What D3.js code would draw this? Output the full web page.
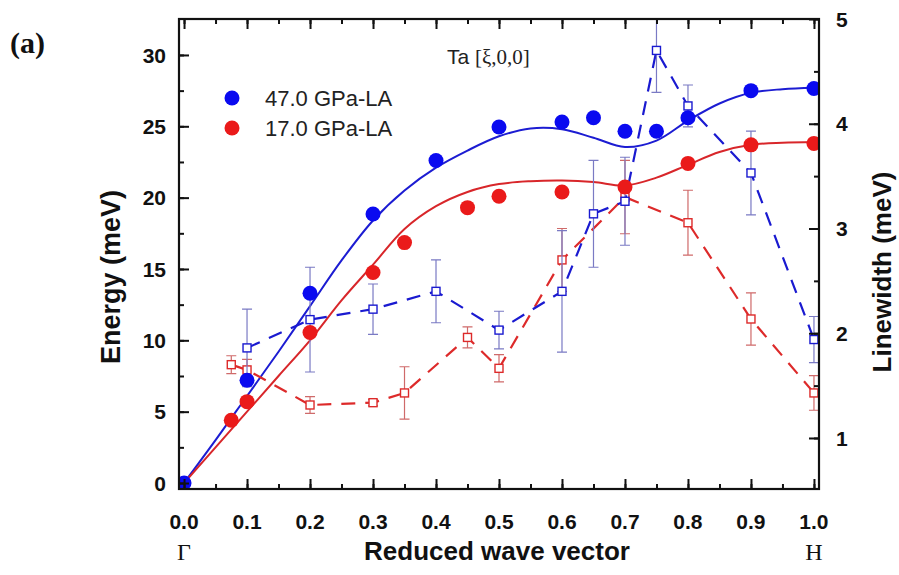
<!DOCTYPE html>
<html lang="en">
<head>
    <meta charset="UTF-8">
    <title>Ta [ξ,0,0] LA phonons</title>
    <script src="https://d3js.org/d3.v7.min.js"></script>
    <style>
        body { margin: 0; background: #fff; }
        svg { display: block; }
        .tick-label { font-family: "Liberation Sans", Arial, sans-serif; font-weight: bold; font-size: 21px; fill: #111; }
        .axis-title { font-family: "Liberation Sans", Arial, sans-serif; font-weight: bold; font-size: 26px; fill: #111; }
    </style>
</head>
<body>
<svg></svg>
<script>
const width = 899, height = 575;

// energy dispersion (left axis)
const q47 = [0, 0.1, 0.2, 0.3, 0.4, 0.5, 0.6, 0.65, 0.7, 0.75, 0.8, 0.9, 1.0];
const e47 = [0, 7.2, 13.3, 18.85, 22.6, 24.95, 25.3, 25.6, 24.65, 24.65, 25.6, 27.5, 27.65];
const q17 = [0.075, 0.1, 0.2, 0.3, 0.35, 0.45, 0.5, 0.6, 0.7, 0.8, 0.9, 1.0];
const e17 = [4.4, 5.7, 10.55, 14.75, 16.85, 19.3, 20.1, 20.4, 20.75, 22.4, 23.7, 23.8];

// fitted curves
const qFit = [0, 0.05, 0.1, 0.15, 0.2, 0.25, 0.3, 0.35, 0.4, 0.45, 0.5, 0.55, 0.6, 0.65, 0.7, 0.75, 0.8, 0.85, 0.9, 0.95, 1.0];
const fit47 = [0, 3.0, 6.1, 9.2, 12.4, 15.6, 18.4, 20.5, 22.1, 23.3, 24.3, 24.85, 24.8, 24.2, 23.55, 24.0, 25.4, 26.6, 27.35, 27.6, 27.7];
const fit17 = [0, 2.5, 5.0, 7.5, 10.0, 12.8, 15.3, 17.8, 19.4, 20.4, 20.95, 21.15, 21.2, 21.1, 20.85, 21.4, 22.3, 23.2, 23.7, 23.85, 23.9];

// linewidths (right axis)
const qLw47 = [0.1, 0.2, 0.3, 0.4, 0.5, 0.6, 0.65, 0.7, 0.75, 0.8, 0.9, 1.0];
const lw47 = [1.86, 2.13, 2.23, 2.40, 2.03, 2.40, 3.14, 3.26, 4.70, 4.17, 3.53, 1.94];
const err47 = [0.37, 0.5, 0.24, 0.3, 0.18, 0.58, 0.51, 0.42, 0.4, 0.2, 0.4, 0.22];
const qLw17 = [0.075, 0.1, 0.2, 0.3, 0.35, 0.45, 0.5, 0.6, 0.7, 0.8, 0.9, 1.0];
const lw17 = [1.70, 1.65, 1.315, 1.337, 1.43, 1.96, 1.665, 2.70, 3.30, 3.055, 2.136, 1.43];
const err17 = [0.085, 0.1, 0.08, 0.03, 0.25, 0.1, 0.13, 0.3, 0.35, 0.31, 0.25, 0.165];

const xTicks = [0, 0.1, 0.2, 0.3, 0.4, 0.5, 0.6, 0.7, 0.8, 0.9, 1.0];
const yTicks = [0, 5, 10, 15, 20, 25, 30];
const y2Ticks = [1, 2, 3, 4, 5];
const legendLabels = ["47.0 GPa-LA", "17.0 GPa-LA"];

const blue = "#0a0af0", red = "#ea1a1a";

const svg = d3.select("svg")
    .attr("width", width)
    .attr("height", height);

const pl = 179, pr = 819, pt = 19, pb = 489;

const x = d3.scaleLinear().domain([-0.008, 1.008]).range([pl, pr]);
const y = d3.scaleLinear().domain([-0.42, 32.52]).range([pb, pt]);
const y2 = d3.scaleLinear().domain([0.513, 5.0]).range([pb, pt]);

svg.append("clipPath").attr("id", "plot")
    .append("rect").attr("x", pl).attr("y", pt)
    .attr("width", pr - pl).attr("height", pb - pt);

const plot = svg.append("g").attr("clip-path", "url(#plot)");

// axes: ticks inside on all four sides
const minorX = d3.range(0, 1.001, 0.05);
const minorY = d3.range(0, 32.5, 2.5);
const minorY2 = d3.range(1, 5.01, 0.5);

svg.append("g").attr("transform", `translate(0,${pb})`)
    .call(d3.axisBottom(x).tickValues(minorX).tickSize(-5).tickFormat(""));
svg.append("g").attr("transform", `translate(0,${pb})`)
    .call(d3.axisBottom(x).tickValues(xTicks).tickSize(-10).tickFormat(""));
svg.append("g").attr("transform", `translate(0,${pt})`)
    .call(d3.axisTop(x).tickValues(minorX).tickSize(-5).tickFormat(""));
svg.append("g").attr("transform", `translate(0,${pt})`)
    .call(d3.axisTop(x).tickValues(xTicks).tickSize(-10).tickFormat(""));
svg.append("g").attr("transform", `translate(${pl},0)`)
    .call(d3.axisLeft(y).tickValues(minorY).tickSize(-5).tickFormat(""));
svg.append("g").attr("transform", `translate(${pl},0)`)
    .call(d3.axisLeft(y).tickValues(yTicks).tickSize(-10).tickFormat(""));
svg.append("g").attr("transform", `translate(${pr},0)`)
    .call(d3.axisRight(y2).tickValues(minorY2).tickSize(-5).tickFormat(""));
svg.append("g").attr("transform", `translate(${pr},0)`)
    .call(d3.axisRight(y2).tickValues(y2Ticks).tickSize(-10).tickFormat(""));

svg.selectAll(".domain").remove();
svg.selectAll(".tick line").attr("stroke", "#111").attr("stroke-width", 2);

svg.append("rect")
    .attr("x", pl).attr("y", pt)
    .attr("width", pr - pl).attr("height", pb - pt)
    .attr("fill", "none").attr("stroke", "#111").attr("stroke-width", 2.2);

// tick labels
svg.append("g").selectAll("text").data(xTicks).join("text")
    .attr("class", "tick-label")
    .attr("x", d => x(d)).attr("y", 529)
    .attr("text-anchor", "middle")
    .text(d => d3.format(".1f")(d));
svg.append("g").selectAll("text").data(yTicks).join("text")
    .attr("class", "tick-label")
    .attr("x", 166).attr("y", d => y(d)).attr("dy", "0.36em")
    .attr("text-anchor", "end")
    .text(d => d);
svg.append("g").selectAll("text").data(y2Ticks).join("text")
    .attr("class", "tick-label")
    .attr("x", 836).attr("y", d => y2(d)).attr("dy", "0.36em")
    .text(d => d);

// axis titles
svg.append("text").attr("class", "axis-title")
    .attr("transform", "translate(110,277) rotate(-90)")
    .attr("text-anchor", "middle").attr("dy", "0.36em")
    .attr("font-size", 27)
    .style("font-size", "27px")
    .text("Energy (meV)");
svg.append("text").attr("class", "axis-title")
    .attr("transform", "translate(882,272) rotate(-90)")
    .attr("text-anchor", "middle").attr("dy", "0.36em")
    .text("Linewidth (meV)");
svg.append("text").attr("class", "axis-title")
    .attr("x", 497).attr("y", 560).attr("text-anchor", "middle")
    .text("Reduced wave vector");
svg.append("text")
    .attr("x", x(0)).attr("y", 560).attr("text-anchor", "middle")
    .attr("font-family", "Liberation Serif, serif").attr("font-size", 24).attr("fill", "#111")
    .text("Γ");
svg.append("text")
    .attr("x", x(1)).attr("y", 560).attr("text-anchor", "middle")
    .attr("font-family", "Liberation Serif, serif").attr("font-size", 24).attr("fill", "#111")
    .text("H");
svg.append("text")
    .attr("x", 10).attr("y", 53)
    .attr("font-family", "Liberation Serif, serif").attr("font-weight", "bold")
    .attr("font-size", 30).attr("fill", "#111")
    .text("(a)");

const ta = svg.append("text").attr("x", 447).attr("y", 64).attr("fill", "#222");
ta.append("tspan").attr("font-family", "Liberation Sans, Arial, sans-serif").attr("font-size", 21).text("Ta ");
ta.append("tspan").attr("font-family", "Liberation Serif, serif").attr("font-size", 21).text("[ξ,0,0]");

// fitted dispersion curves
const fitLine = d3.line().x((d, i) => x(qFit[i])).y(d => y(d)).curve(d3.curveCatmullRom);
plot.append("path").datum(fit47).attr("d", fitLine)
    .attr("fill", "none").attr("stroke", "#1c1cd2").attr("stroke-width", 2);
plot.append("path").datum(fit17).attr("d", fitLine)
    .attr("fill", "none").attr("stroke", "#d8262a").attr("stroke-width", 2);

// linewidth dashed lines, error bars, open squares
function linewidth(qs, vals, errs, lineColor, barColor) {
    const pts = qs.map((q, i) => ({q, v: vals[i], e: errs[i]}));
    plot.append("path").datum(pts)
        .attr("d", d3.line().x(d => x(d.q)).y(d => y2(d.v)))
        .attr("fill", "none").attr("stroke", lineColor)
        .attr("stroke-width", 2.2).attr("stroke-dasharray", "14,10");
    const g = plot.append("g").attr("stroke", barColor).attr("stroke-width", 1.2).attr("fill", "none");
    g.selectAll(".bar").data(pts).join("path")
        .attr("d", d => {
            const cx = x(d.q), y0 = y2(d.v - d.e), y1 = y2(d.v + d.e);
            return `M${cx},${y0}V${y1}M${cx - 5},${y0}H${cx + 5}M${cx - 5},${y1}H${cx + 5}`;
        });
    plot.append("g").selectAll("rect").data(pts).join("rect")
        .attr("x", d => x(d.q) - 4).attr("y", d => y2(d.v) - 4)
        .attr("width", 8).attr("height", 8)
        .attr("fill", "#fff").attr("stroke", lineColor).attr("stroke-width", 1.4);
}
linewidth(qLw17, lw17, err17, "#dd2a2a", "#cf6a6a");
linewidth(qLw47, lw47, err47, "#1a1ad0", "#7a7ac4");

// energy points
plot.append("g").selectAll("circle").data(q17).join("circle")
    .attr("cx", d => x(d)).attr("cy", (d, i) => y(e17[i])).attr("r", 7.5)
    .attr("fill", red);
plot.append("g").selectAll("circle").data(q47).join("circle")
    .attr("cx", d => x(d)).attr("cy", (d, i) => y(e47[i])).attr("r", 7.5)
    .attr("fill", blue);

// legend
const legend = svg.append("g");
[blue, red].forEach((c, i) => {
    legend.append("circle").attr("cx", 232).attr("cy", 98 + i * 30).attr("r", 7.5).attr("fill", c);
    legend.append("text").attr("x", 265).attr("y", 98 + i * 30).attr("dy", "0.36em")
        .attr("font-family", "Liberation Sans, Arial, sans-serif").attr("font-size", 22).attr("fill", "#222")
        .text(legendLabels[i]);
});
</script>
</body>
</html>
